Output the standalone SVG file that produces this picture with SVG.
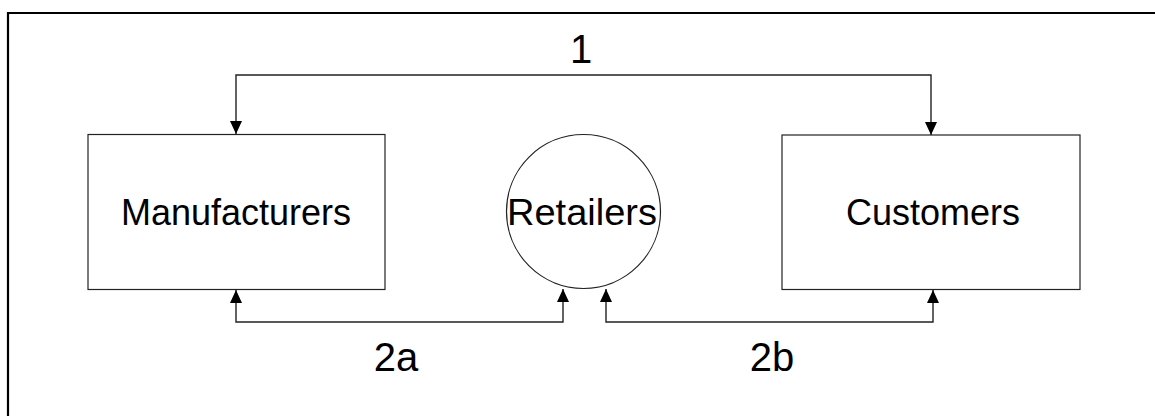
<svg xmlns="http://www.w3.org/2000/svg" width="1155" height="416" viewBox="0 0 1155 416">
  <style>
    .frame { fill: none; stroke: #000; stroke-width: 2.2; }
    .node { fill: #fff; stroke: #222; stroke-width: 1.2; }
    .link { fill: none; stroke: #222; stroke-width: 1.4; }
    .lbl { font-family: "Liberation Sans", Arial, sans-serif; fill: #000; text-anchor: middle; }
    .big { font-size: 40px; }
    .name { font-size: 36px; }
  </style>
  <defs>
    <marker id="arrow" viewBox="0 0 13 12" refX="13" refY="6" markerWidth="13" markerHeight="12" markerUnits="userSpaceOnUse" orient="auto-start-reverse">
      <path d="M0,0 L13,6 L0,12 Z" fill="#000"/>
    </marker>
  </defs>
  <rect width="1155" height="416" fill="#fff"/>
  <!-- page frame: only the top and left edges fall within the view -->
  <path class="frame" d="M8,416 V13 H1155"/>

  <g id="connectors">
    <path class="link" d="M236,134 V75 H931 V135" marker-start="url(#arrow)" marker-end="url(#arrow)"/>
    <path class="link" d="M236,290 V322 H563 V289" marker-start="url(#arrow)" marker-end="url(#arrow)"/>
    <path class="link" d="M606,289 V322 H933 V290" marker-start="url(#arrow)" marker-end="url(#arrow)"/>
    <text class="lbl big" x="581" y="63">1</text>
    <text class="lbl big" x="396" y="371">2a</text>
    <text class="lbl big" x="772" y="371">2b</text>
  </g>

  <g id="manufacturers">
    <rect class="node" x="88" y="134.5" width="297" height="155"/>
    <text class="lbl name" x="236" y="225">Manufacturers</text>
  </g>

  <g id="retailers">
    <circle class="node" cx="583.5" cy="211.5" r="77"/>
    <text class="lbl name" x="582" y="225" textLength="150" lengthAdjust="spacingAndGlyphs">Retailers</text>
  </g>

  <g id="customers">
    <rect class="node" x="782" y="135" width="298" height="154.5"/>
    <text class="lbl name" x="933" y="225">Customers</text>
  </g>
</svg>
